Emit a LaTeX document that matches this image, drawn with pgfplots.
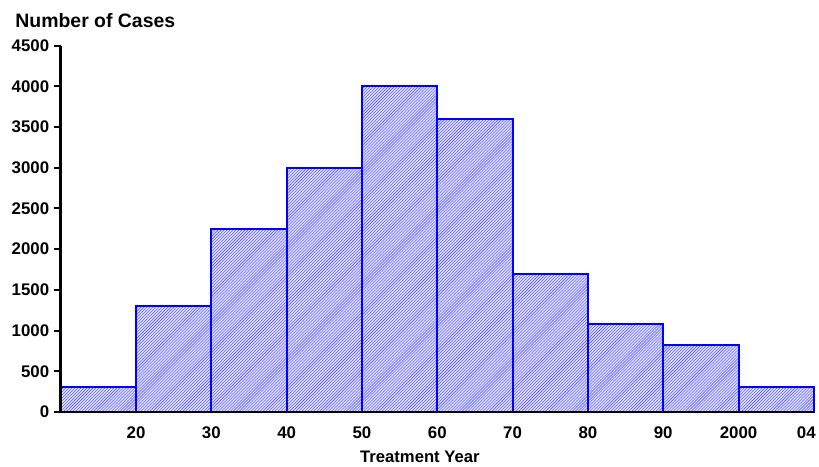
\documentclass[border=0pt]{standalone}
\usepackage{fontspec}
\setmainfont{Liberation Sans}
\usepackage{pgfplots}
\pgfplotsset{compat=1.18}
\usetikzlibrary{patterns}
\begin{document}
\begin{tikzpicture}
\begin{axis}[
  scale only axis,
  width=757bp, height=368bp,
  xmin=1910, xmax=2010,
  ymin=0, ymax=4500,
  axis x line=bottom, axis y line=left,
  axis line style={-, line width=2.8bp, black},
  axis on top,
  xtick={1920,1930,1940,1950,1960,1970,1980,1990,2000,2009},
  xticklabels={20,30,40,50,60,70,80,90,2000,04},
  ytick={0,500,1000,1500,2000,2500,3000,3500,4000,4500},
  /pgf/number format/assume math mode=true,
  /pgf/number format/set thousands separator={},
  x tick style={draw=none},
  y tick style={line width=2bp, black},
  tick align=outside,
  major tick length=7bp,
  ticklabel style={font=\fontsize{17}{19}\selectfont\bfseries},
  xticklabel style={yshift=-4bp},
  yticklabel style={xshift=-1bp},
  clip=false,
]
\addplot[ybar interval, draw=blue, line width=2bp,
  fill=blue!12, postaction={pattern=north east lines, pattern color=blue!75}]
  coordinates {
  (1910,300) (1920,1300) (1930,2250) (1940,3000) (1950,4000)
  (1960,3600) (1970,1700) (1980,1080) (1990,820) (2000,310) (2010,310)
  };
\end{axis}
\node[anchor=base west, font=\fontsize{19.6}{21}\selectfont\bfseries] at (-49bp,386bp) {Number of Cases};
\node[anchor=base, font=\fontsize{16.8}{18}\selectfont\bfseries] at (361bp,-51bp) {Treatment Year};
\useasboundingbox (-61bp,-54bp) rectangle (758bp,414bp);
\end{tikzpicture}
\end{document}
